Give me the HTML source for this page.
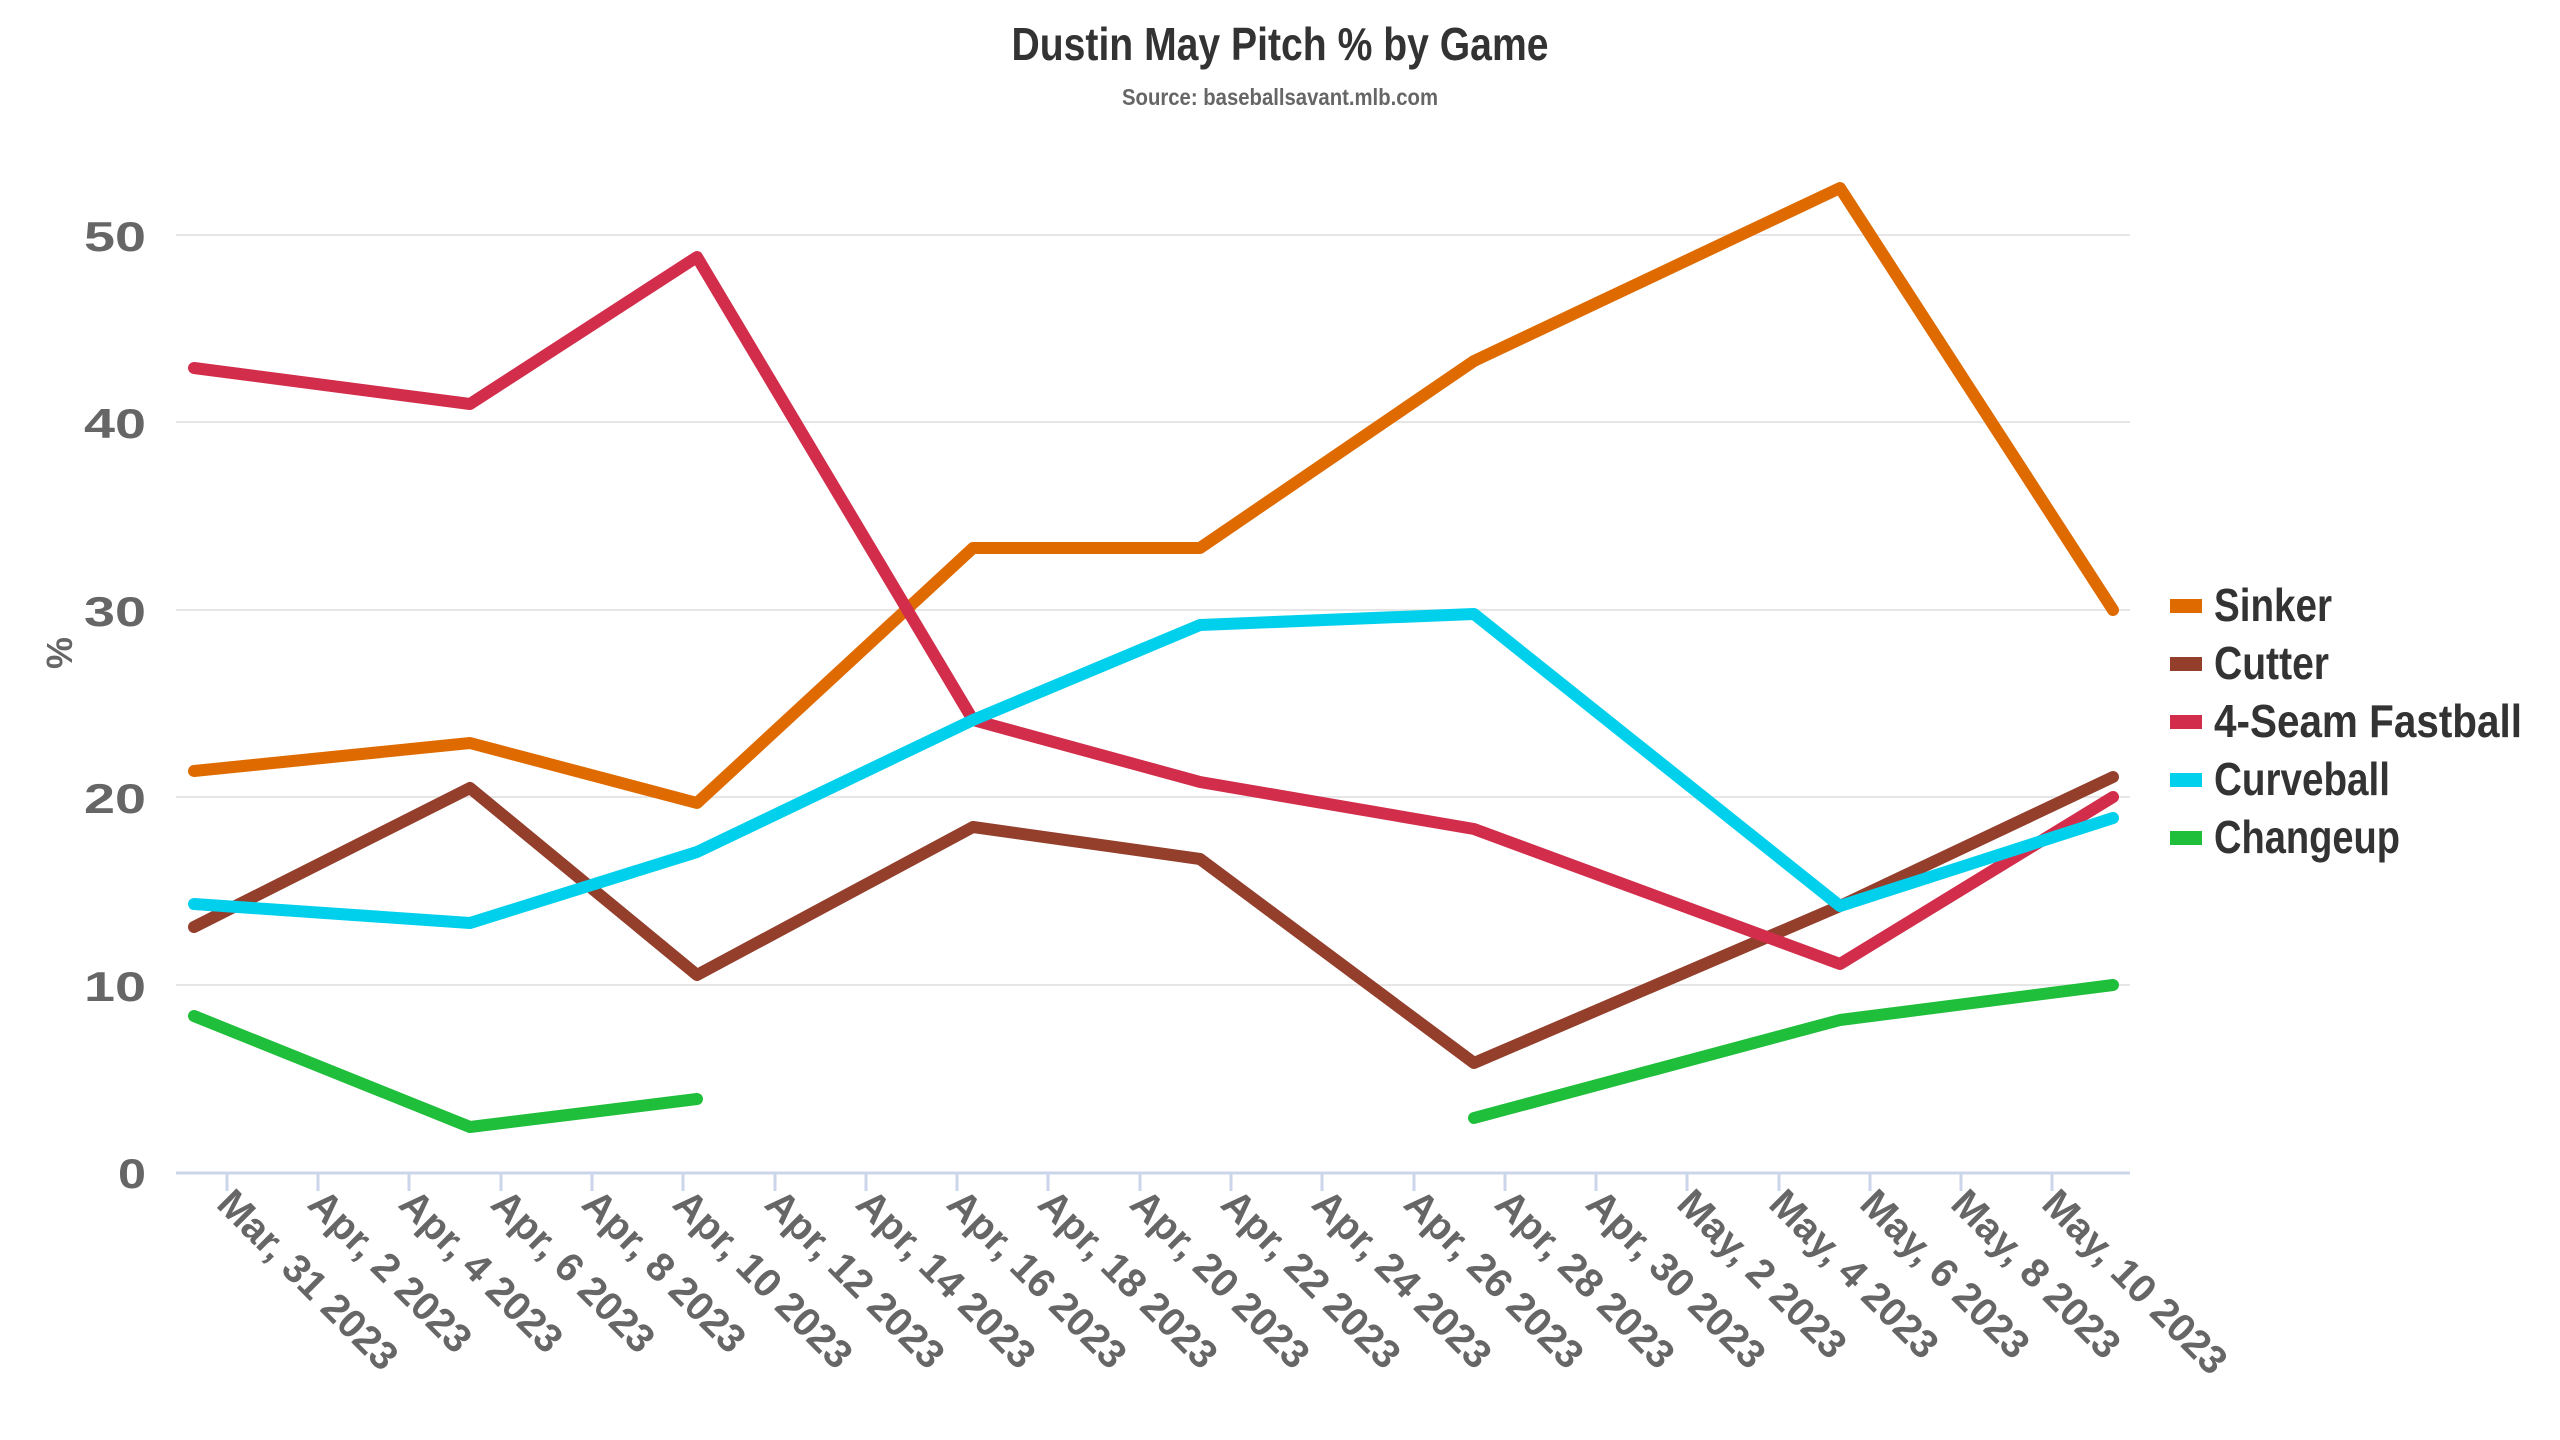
<!DOCTYPE html>
<html><head><meta charset="utf-8"><style>
html,body{margin:0;padding:0;background:#fff;}
svg{display:block;}
text{font-family:"Liberation Sans",sans-serif;font-weight:bold;}
</style></head><body>
<svg width="2560" height="1440" viewBox="0 0 2560 1440" xmlns="http://www.w3.org/2000/svg">
<rect width="2560" height="1440" fill="#fff"/>
<text x="1280" y="60" text-anchor="middle" font-size="46" fill="#333" textLength="537" lengthAdjust="spacingAndGlyphs">Dustin May Pitch % by Game</text>
<text x="1280" y="105" text-anchor="middle" font-size="23" fill="#666" textLength="316" lengthAdjust="spacingAndGlyphs">Source: baseballsavant.mlb.com</text>
<g stroke="#e6e6e6" stroke-width="2">
<line x1="176" y1="985" x2="2130" y2="985"/>
<line x1="176" y1="797" x2="2130" y2="797"/>
<line x1="176" y1="610" x2="2130" y2="610"/>
<line x1="176" y1="422" x2="2130" y2="422"/>
<line x1="176" y1="235" x2="2130" y2="235"/>
</g>
<line x1="176" y1="1173" x2="2130" y2="1173" stroke="#ccd6eb" stroke-width="3"/>
<g stroke="#ccd6eb" stroke-width="3">
<line x1="227" y1="1173" x2="227" y2="1191"/><line x1="318" y1="1173" x2="318" y2="1191"/><line x1="409" y1="1173" x2="409" y2="1191"/><line x1="501" y1="1173" x2="501" y2="1191"/><line x1="592" y1="1173" x2="592" y2="1191"/><line x1="683" y1="1173" x2="683" y2="1191"/><line x1="775" y1="1173" x2="775" y2="1191"/><line x1="866" y1="1173" x2="866" y2="1191"/><line x1="957" y1="1173" x2="957" y2="1191"/><line x1="1048" y1="1173" x2="1048" y2="1191"/><line x1="1140" y1="1173" x2="1140" y2="1191"/><line x1="1231" y1="1173" x2="1231" y2="1191"/><line x1="1322" y1="1173" x2="1322" y2="1191"/><line x1="1414" y1="1173" x2="1414" y2="1191"/><line x1="1505" y1="1173" x2="1505" y2="1191"/><line x1="1596" y1="1173" x2="1596" y2="1191"/><line x1="1687" y1="1173" x2="1687" y2="1191"/><line x1="1779" y1="1173" x2="1779" y2="1191"/><line x1="1870" y1="1173" x2="1870" y2="1191"/><line x1="1961" y1="1173" x2="1961" y2="1191"/><line x1="2052" y1="1173" x2="2052" y2="1191"/>
</g>
<g font-size="42" fill="#666" text-anchor="end">
<text x="146" y="1188" textLength="28" lengthAdjust="spacingAndGlyphs">0</text>
<text x="146" y="1001" textLength="62" lengthAdjust="spacingAndGlyphs">10</text>
<text x="146" y="813" textLength="62" lengthAdjust="spacingAndGlyphs">20</text>
<text x="146" y="626" textLength="62" lengthAdjust="spacingAndGlyphs">30</text>
<text x="146" y="438" textLength="62" lengthAdjust="spacingAndGlyphs">40</text>
<text x="146" y="251" textLength="62" lengthAdjust="spacingAndGlyphs">50</text>
</g>
<text transform="translate(72,653) rotate(-90)" text-anchor="middle" font-size="36" fill="#666">%</text>
<g font-size="40" fill="#666">
<text transform="translate(215,1206) rotate(45)">Mar, 31 2023</text>
<text transform="translate(306,1206) rotate(45)">Apr, 2 2023</text>
<text transform="translate(397,1206) rotate(45)">Apr, 4 2023</text>
<text transform="translate(489,1206) rotate(45)">Apr, 6 2023</text>
<text transform="translate(580,1206) rotate(45)">Apr, 8 2023</text>
<text transform="translate(671,1206) rotate(45)">Apr, 10 2023</text>
<text transform="translate(763,1206) rotate(45)">Apr, 12 2023</text>
<text transform="translate(854,1206) rotate(45)">Apr, 14 2023</text>
<text transform="translate(945,1206) rotate(45)">Apr, 16 2023</text>
<text transform="translate(1036,1206) rotate(45)">Apr, 18 2023</text>
<text transform="translate(1128,1206) rotate(45)">Apr, 20 2023</text>
<text transform="translate(1219,1206) rotate(45)">Apr, 22 2023</text>
<text transform="translate(1310,1206) rotate(45)">Apr, 24 2023</text>
<text transform="translate(1402,1206) rotate(45)">Apr, 26 2023</text>
<text transform="translate(1493,1206) rotate(45)">Apr, 28 2023</text>
<text transform="translate(1584,1206) rotate(45)">Apr, 30 2023</text>
<text transform="translate(1675,1206) rotate(45)">May, 2 2023</text>
<text transform="translate(1767,1206) rotate(45)">May, 4 2023</text>
<text transform="translate(1858,1206) rotate(45)">May, 6 2023</text>
<text transform="translate(1949,1206) rotate(45)">May, 8 2023</text>
<text transform="translate(2040,1206) rotate(45)">May, 10 2023</text>
</g>
<g fill="none" stroke-width="12" stroke-linejoin="round" stroke-linecap="round">
<polyline stroke="#df6b00" points="194,771 470,743 697,803 973,548 1200,548 1474,361 1840,188 2113,610"/>
<polyline stroke="#943e2c" points="194,927 470,788 697,975 973,827 1200,859 1474,1063 1840,906 2113,777"/>
<polyline stroke="#d22d4b" points="194,368 470,404 697,257 973,720 1200,782 1474,829 1840,964 2113,797"/>
<polyline stroke="#00d0ec" points="194,904 470,923 697,852 973,720 1200,625 1474,614 1840,906 2113,818"/>
<polyline stroke="#1fbe3b" points="194,1016 470,1127 697,1099"/>
<polyline stroke="#1fbe3b" points="1474,1118 1840,1020 2113,985"/>
</g>
<rect x="2170" y="599" width="32" height="14" fill="#df6b00"/>
<rect x="2170" y="657" width="32" height="14" fill="#943e2c"/>
<rect x="2170" y="715" width="32" height="14" fill="#d22d4b"/>
<rect x="2170" y="773" width="32" height="14" fill="#00d0ec"/>
<rect x="2170" y="831" width="32" height="14" fill="#1fbe3b"/>
<g font-size="46" fill="#333">
<text x="2214" y="621" textLength="118" lengthAdjust="spacingAndGlyphs">Sinker</text>
<text x="2214" y="679" textLength="115" lengthAdjust="spacingAndGlyphs">Cutter</text>
<text x="2214" y="737" textLength="308" lengthAdjust="spacingAndGlyphs">4-Seam Fastball</text>
<text x="2214" y="795" textLength="176" lengthAdjust="spacingAndGlyphs">Curveball</text>
<text x="2214" y="853" textLength="186" lengthAdjust="spacingAndGlyphs">Changeup</text>
</g>
</svg>
</body></html>
